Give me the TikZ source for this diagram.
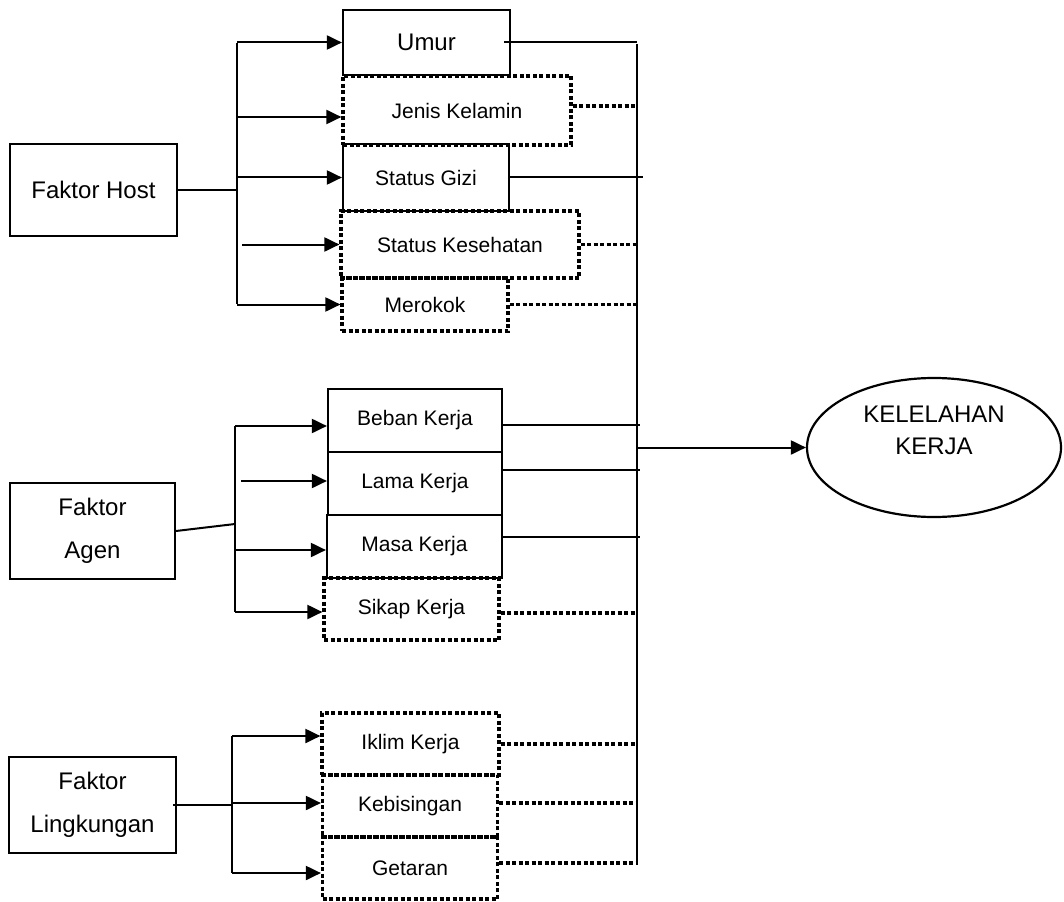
\documentclass[tikz,border=0pt]{standalone}
\usepackage{fontspec}
\setmainfont{Liberation Sans}
\usetikzlibrary{arrows.meta, positioning, shapes.geometric, calc}

\begin{document}
\begin{tikzpicture}[
    x=1pt, y=-1pt,
    box/.style={rectangle, draw=black, line width=2.2pt, inner sep=0pt, text centered, font=\fontsize{21}{25}\selectfont},
    dotbox/.style={box, line width=3.2pt, dash pattern=on 4pt off 2.5pt},
    factor/.style={box, line width=2pt, align=center, font=\fontsize{24}{29}\selectfont},
    goal/.style={ellipse, draw=black, line width=2.2pt, minimum width=254pt, minimum height=139pt, inner sep=0pt},
    arrow/.style={-{Triangle[length=15pt,width=14pt]}, line width=2pt},
    link/.style={line width=2pt},
    dotlink/.style={line width=3.2pt, dash pattern=on 4pt off 2.5pt}
]
\useasboundingbox (0,0) rectangle (1064,901);

% --- Faktor Host ---
\node[factor, minimum width=167pt, minimum height=92pt] (host) at (93.5,190) {Faktor Host};
\node[box, font=\fontsize{24}{29}\selectfont, minimum width=167pt, minimum height=65pt] (umur) at (426.5,42.5) {Umur};
\node[dotbox, minimum width=228pt, minimum height=69pt] (kelamin) at (457,110.5) {Jenis Kelamin};
\node[box, minimum width=166pt, minimum height=67pt] (gizi) at (426,177.5) {Status Gizi};
\node[dotbox, minimum width=238pt, minimum height=67pt] (sehat) at (460,244.5) {Status Kesehatan};
\node[dotbox, minimum width=166pt, minimum height=53pt] (rokok) at (425,304.5) {Merokok};

% --- Faktor Agen ---
\node[factor, minimum width=165pt, minimum height=96pt] (agen) at (92.5,531) {Faktor\\[14pt]Agen};
\node[box, minimum width=174pt, minimum height=63pt] (beban) at (415,420.5) {Beban Kerja};
\node[box, minimum width=174pt, minimum height=63pt] (lama) at (415,483.5) {Lama Kerja};
\node[box, minimum width=175pt, minimum height=63pt] (masa) at (414.5,546.5) {Masa Kerja};
\node[dotbox, minimum width=175pt, minimum height=62pt] (sikap) at (411.5,609) {Sikap Kerja};

% --- Faktor Lingkungan ---
\node[factor, minimum width=167pt, minimum height=96pt] (lingk) at (92.5,805) {Faktor\\[14pt]Lingkungan};
\node[dotbox, minimum width=177pt, minimum height=62pt] (iklim) at (410.5,744) {Iklim Kerja};
\node[dotbox, minimum width=175pt, minimum height=62pt] (bising) at (410,806) {Kebisingan};
\node[dotbox, minimum width=175pt, minimum height=62pt] (getar) at (410,868) {Getaran};

% --- Outcome ---
\node[goal, label={[align=center, font=\fontsize{24}{29}\selectfont, yshift=17pt]center:KELELAHAN\\[3pt]KERJA}] (lelah) at (934,447.5) {};

% --- Trunks and bus ---
\coordinate (hostT) at (237,43);
\coordinate (hostB) at (237,304);
\coordinate (agenT) at (235,426);
\coordinate (agenB) at (235,612);
\coordinate (lingT) at (232,736);
\coordinate (lingB) at (232,873);
\coordinate (busT) at (637,44);
\coordinate (busB) at (637,865);

\draw[link] (hostT) -- (hostB);
\draw[link] (agenT) -- (agenB);
\draw[link] (lingT) -- (lingB);
\draw[link] (busT) -- (busB);

% Host connections
\draw[link] (host.east) -- (hostT |- host.east);
\draw[arrow] (hostT |- umur.west) -- (umur.west);
\draw[arrow] ($(hostT |- kelamin.west)+(0,6.5)$) -- ($(kelamin.west)+(0,6.5)$);
\draw[arrow] (hostT |- gizi.west) -- (gizi.west);
\draw[arrow] ($(hostT |- sehat.west)+(5,0)$) -- (sehat.west);
\draw[arrow] (hostT |- rokok.west) -- (rokok.west);

% Agen connections
\draw[link] (agen.east) -- ($(agenT |- agen.east)+(0,-7)$);
\draw[arrow] ($(agenT |- beban.west)+(0,5.5)$) -- ($(beban.west)+(0,5.5)$);
\draw[arrow] ($(agenT |- lama.west)+(6,-2.5)$) -- ($(lama.west)+(0,-2.5)$);
\draw[arrow] ($(agenT |- masa.west)+(0,3.5)$) -- ($(masa.west)+(0,3.5)$);
\draw[arrow] ($(agenT |- sikap.west)+(0,3)$) -- ($(sikap.west)+(0,3)$);

% Lingkungan connections
\draw[link] ($(lingk.east)+(-4,0)$) -- (lingT |- lingk.east);
\draw[arrow] ($(lingT |- iklim.west)+(0,-8)$) -- ($(iklim.west)+(0,-8)$);
\draw[arrow] ($(lingT |- bising.west)+(0,-3)$) -- ($(bising.west)+(0,-3)$);
\draw[arrow] ($(lingT |- getar.west)+(0,5)$) -- ($(getar.west)+(0,5)$);

% Links to the bus
\draw[link] ($(umur.east)+(-7,0)$) -- (busT |- umur.east);
\draw[dotlink] ($(kelamin.east)+(0,-4.5)$) -- ($(busT |- kelamin.east)+(0,-4.5)$);
\draw[link] (gizi.east) -- ($(busT |- gizi.east)+(6,0)$);
\draw[dotlink] (sehat.east) -- (busT |- sehat.east);
\draw[dotlink] (rokok.east) -- (busT |- rokok.east);
\draw[link] ($(beban.east)+(0,4.5)$) -- ($(busT |- beban.east)+(3,4.5)$);
\draw[link] ($(lama.east)+(0,-13.5)$) -- ($(busT |- lama.east)+(3,-13.5)$);
\draw[link] ($(masa.east)+(0,-9.5)$) -- ($(busT |- masa.east)+(3,-9.5)$);
\draw[dotlink] ($(sikap.east)+(0,4)$) -- ($(busT |- sikap.east)+(0,4)$);
\draw[dotlink] (iklim.east) -- (busT |- iklim.east);
\draw[dotlink] ($(bising.east)+(0,-3)$) -- ($(busT |- bising.east)+(0,-3)$);
\draw[dotlink] ($(getar.east)+(0,-5)$) -- ($(busT |- getar.east)+(0,-5)$);

% Bus to outcome
\draw[arrow] (busT |- lelah.west) -- (lelah.west);

\end{tikzpicture}
\end{document}
